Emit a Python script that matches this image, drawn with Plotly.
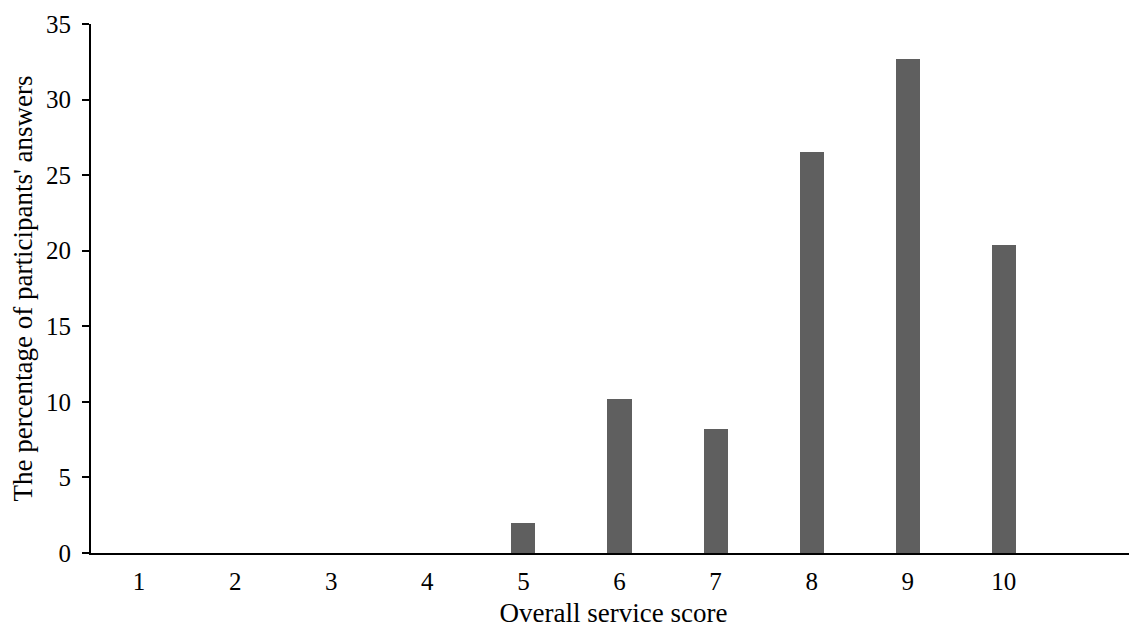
import plotly.graph_objects as go

scores = [1, 2, 3, 4, 5, 6, 7, 8, 9, 10]
percentages = [0, 0, 0, 0, 2.0, 10.2, 8.2, 26.5, 32.7, 20.4]
y_ticks = [0, 5, 10, 15, 20, 25, 30, 35]

fig = go.Figure()
fig.add_trace(go.Bar(
    x=scores,
    y=percentages,
    width=0.25,
    marker=dict(color="#5f5f5f", line=dict(width=0)),
))

font_family = "Liberation Serif, Times New Roman, serif"

# the page body adds an 8px offset; margins compensate for it
fig.update_layout(
    width=1137,
    height=629,
    margin=dict(l=83, r=9, t=16, b=84),
    paper_bgcolor="white",
    plot_bgcolor="white",
    font=dict(family=font_family, size=25, color="black"),
    showlegend=False,
    bargap=0,
)

fig.update_xaxes(
    range=[0.5, 11.375],
    tickmode="array",
    tickvals=scores,
    ticktext=[str(s) for s in scores],
    showgrid=False,
    zeroline=False,
    showline=True,
    linecolor="black",
    linewidth=2,
    ticks="",
    ticklabelstandoff=5,
    automargin=False,
    tickfont=dict(size=25),
    title=dict(text="Overall service score", standoff=9, font=dict(size=27)),
)

fig.update_yaxes(
    range=[0, 35],
    tickmode="array",
    tickvals=y_ticks,
    showgrid=False,
    zeroline=False,
    showline=True,
    linecolor="black",
    linewidth=2,
    ticks="outside",
    ticklen=7,
    tickwidth=1.5,
    tickcolor="black",
    ticklabelstandoff=6,
    automargin=False,
    tickfont=dict(size=25),
    title=dict(text="The percentage of participants' answers", standoff=6, font=dict(size=27)),
)

fig.write_html("out.html")
